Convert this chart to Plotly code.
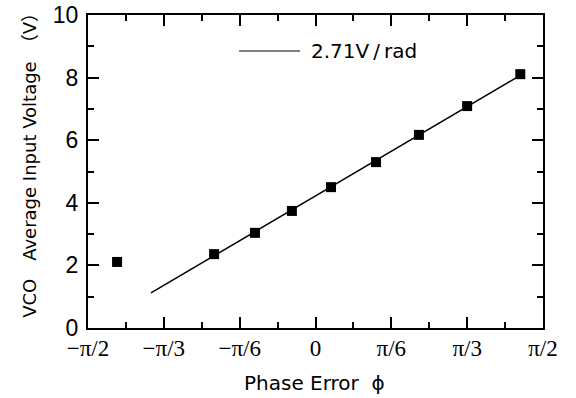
import numpy as np
import plotly.graph_objects as go

pi = np.pi
# measured data points (phase error in rad, voltage in V)
phase = [-1.37, -0.70, -0.418, -0.163, 0.107, 0.418, 0.714, 1.047, 1.414]
voltage = [2.11, 2.36, 3.04, 3.74, 4.50, 5.30, 6.17, 7.09, 8.11]

# fitted line endpoints (2.71 V/rad)
fit_x = [-1.136, 1.42]
fit_y = [1.12, 8.09]

x_tickvals = [-pi/2, -pi/3, -pi/6, 0, pi/6, pi/3, pi/2]
x_ticktext = ["\u2212\u03c0/2", "\u2212\u03c0/3", "\u2212\u03c0/6", "0", "\u03c0/6", "\u03c0/3", "\u03c0/2"]
x_minor = [-5*pi/12, -3*pi/12, -pi/12, pi/12, 3*pi/12, 5*pi/12]

legend_label = "2.71V\u2009/\u2009rad"
x_title = "Phase Error  \u03d5"
y_title = "VCO\u3000Average Input Voltage\u3000\uff08V\uff09"

GOTHIC = "DejaVu Sans, Noto Sans CJK JP"

fig = go.Figure()
fig.add_trace(go.Scatter(x=fit_x, y=fit_y, mode="lines",
                         line=dict(color="black", width=1.5), showlegend=False))
fig.add_trace(go.Scatter(x=phase, y=voltage, mode="markers",
                         marker=dict(symbol="square", size=10, color="black"),
                         showlegend=False))

# legend drawn as line + text
fig.add_shape(type="line", xref="paper", yref="paper", x0=0.332, x1=0.466, y0=0.885, y1=0.885,
              line=dict(color="black", width=1))
fig.add_annotation(xref="paper", yref="paper", x=0.486, y=0.885, text=legend_label,
                   showarrow=False, xanchor="left", yanchor="middle",
                   font=dict(family=GOTHIC, size=20, color="black"))

# axis titles
fig.add_annotation(xref="paper", yref="paper", x=0.497, y=-0.176, text=x_title,
                   showarrow=False, xanchor="center", yanchor="middle",
                   font=dict(family=GOTHIC, size=20, color="black"))
fig.add_annotation(xref="paper", yref="paper", x=-0.1275, y=0.534, text=y_title,
                   showarrow=False, xanchor="center", yanchor="middle", textangle=-90,
                   font=dict(family=GOTHIC, size=18, color="black"))

axis_common = dict(showline=True, linecolor="black", linewidth=2, mirror="ticks",
                   ticks="inside", ticklen=11, tickwidth=1.5, tickcolor="black",
                   showgrid=False, zeroline=False, automargin=False)

fig.update_xaxes(range=[-pi/2, pi/2], tickmode="array", tickvals=x_tickvals, ticktext=x_ticktext,
                 tickfont=dict(family="Liberation Serif", size=23, color="black"),
                 ticklabelstandoff=-2,
                 minor=dict(ticks="inside", ticklen=6, tickwidth=1.5, tickcolor="black",
                            tickmode="array", tickvals=x_minor),
                 **axis_common)
fig.update_yaxes(range=[0, 10], tickmode="linear", tick0=0, dtick=2,
                 tickfont=dict(family="Liberation Sans", size=23, color="black"),
                 ticklabelstandoff=3,
                 minor=dict(ticks="inside", ticklen=6, tickwidth=1.5, tickcolor="black", dtick=1),
                 **axis_common)

fig.update_layout(width=576, height=398, margin=dict(l=88, r=33, t=15, b=70),
                  plot_bgcolor="white", paper_bgcolor="white")
fig.write_html("out.html")
